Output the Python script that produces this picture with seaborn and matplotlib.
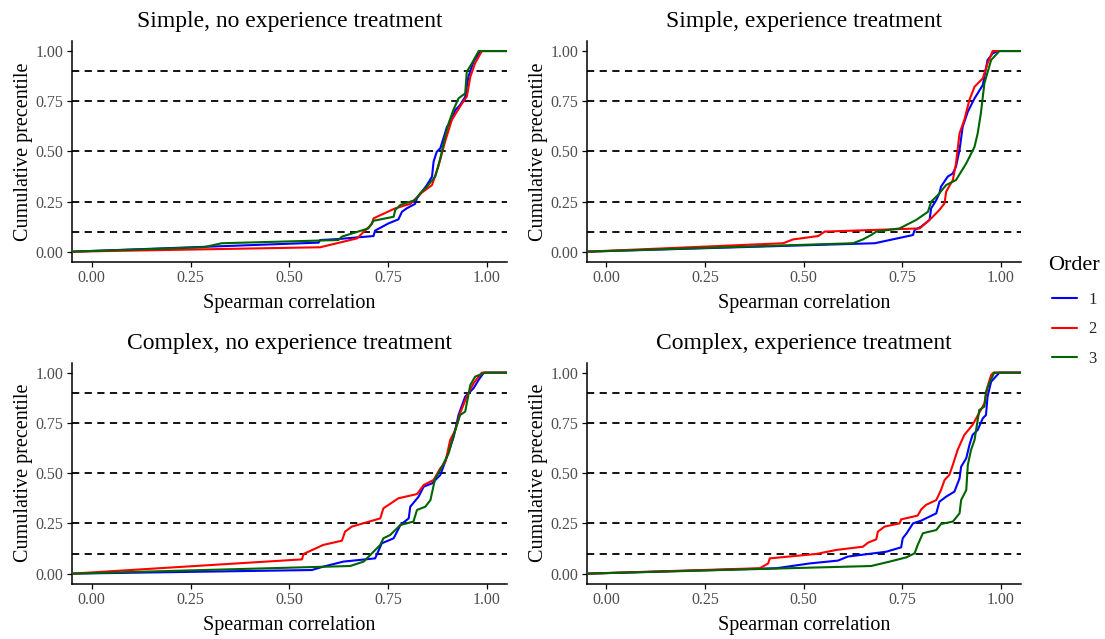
import numpy as np
import pandas as pd
import matplotlib
matplotlib.use("Agg")
import matplotlib.pyplot as plt
from matplotlib.lines import Line2D
import seaborn as sns

# ---------------- data (Spearman correlation, cumulative percentile) ----------------
panel_titles = ["Simple, no experience treatment", "Simple, experience treatment",
                "Complex, no experience treatment", "Complex, experience treatment"]
orders = ["1", "2", "3"]
ref_lines = [0.10, 0.25, 0.50, 0.75, 0.90]
x_ticks = [0.00, 0.25, 0.50, 0.75, 1.00]
y_ticks = [0.00, 0.25, 0.50, 0.75, 1.00]

# Simple, no experience
sn_x1 = [0.574, 0.578, 0.624, 0.713, 0.717, 0.751, 0.776, 0.785, 0.797, 0.818, 0.823, 0.848, 0.861, 0.865, 0.873, 0.882, 0.899, 0.907, 0.920, 0.932, 0.945, 0.953, 0.966, 0.983]
sn_y1 = [0.045, 0.058, 0.063, 0.078, 0.105, 0.141, 0.161, 0.199, 0.216, 0.238, 0.266, 0.332, 0.374, 0.449, 0.498, 0.515, 0.623, 0.640, 0.706, 0.731, 0.772, 0.872, 0.947, 1.000]
sn_x2 = [0.578, 0.671, 0.709, 0.713, 0.768, 0.806, 0.835, 0.861, 0.877, 0.886, 0.894, 0.911, 0.924, 0.937, 0.949, 0.958, 0.970, 0.987]
sn_y2 = [0.022, 0.066, 0.138, 0.166, 0.216, 0.238, 0.294, 0.332, 0.424, 0.490, 0.548, 0.656, 0.698, 0.739, 0.772, 0.872, 0.939, 1.000]
sn_x3 = [0.283, 0.329, 0.624, 0.633, 0.700, 0.713, 0.764, 0.768, 0.781, 0.818, 0.831, 0.848, 0.869, 0.882, 0.894, 0.903, 0.915, 0.928, 0.945, 0.949, 0.962, 0.979]
sn_y3 = [0.022, 0.042, 0.058, 0.075, 0.116, 0.154, 0.174, 0.208, 0.233, 0.257, 0.291, 0.324, 0.374, 0.465, 0.573, 0.640, 0.706, 0.764, 0.789, 0.897, 0.939, 1.000]

# Simple, experience
se_x1 = [0.680, 0.777, 0.781, 0.798, 0.819, 0.823, 0.836, 0.844, 0.848, 0.865, 0.878, 0.886, 0.895, 0.903, 0.916, 0.933, 0.954, 0.966, 0.979, 0.992]
se_y1 = [0.042, 0.083, 0.108, 0.125, 0.158, 0.216, 0.257, 0.291, 0.324, 0.374, 0.390, 0.424, 0.507, 0.623, 0.698, 0.764, 0.831, 0.955, 0.988, 1.000]
se_x2 = [0.448, 0.473, 0.537, 0.553, 0.794, 0.823, 0.844, 0.857, 0.861, 0.878, 0.886, 0.890, 0.895, 0.907, 0.920, 0.933, 0.954, 0.966, 0.979]
se_y2 = [0.042, 0.061, 0.078, 0.100, 0.116, 0.166, 0.208, 0.241, 0.299, 0.357, 0.440, 0.507, 0.590, 0.656, 0.756, 0.822, 0.864, 0.939, 1.000]
se_x3 = [0.625, 0.650, 0.671, 0.684, 0.743, 0.785, 0.815, 0.823, 0.840, 0.861, 0.886, 0.912, 0.933, 0.941, 0.949, 0.958, 0.975, 0.996]
se_y3 = [0.042, 0.061, 0.083, 0.100, 0.116, 0.158, 0.199, 0.249, 0.282, 0.332, 0.357, 0.440, 0.523, 0.590, 0.689, 0.839, 0.955, 1.000]

# Complex, no experience
cn_x1 = [0.557, 0.586, 0.637, 0.717, 0.734, 0.764, 0.781, 0.802, 0.806, 0.827, 0.840, 0.861, 0.882, 0.899, 0.916, 0.928, 0.945, 0.966, 0.979, 0.992]
cn_y1 = [0.018, 0.035, 0.060, 0.076, 0.151, 0.176, 0.242, 0.275, 0.333, 0.383, 0.433, 0.449, 0.491, 0.582, 0.682, 0.789, 0.881, 0.922, 0.964, 1.000]
cn_x2 = [0.532, 0.536, 0.586, 0.633, 0.641, 0.658, 0.730, 0.738, 0.776, 0.823, 0.840, 0.865, 0.882, 0.895, 0.907, 0.920, 0.932, 0.949, 0.966, 0.987]
cn_y2 = [0.071, 0.098, 0.143, 0.164, 0.209, 0.234, 0.275, 0.325, 0.375, 0.396, 0.441, 0.466, 0.524, 0.557, 0.665, 0.715, 0.798, 0.881, 0.947, 1.000]
cn_x3 = [0.654, 0.688, 0.713, 0.730, 0.738, 0.755, 0.781, 0.814, 0.823, 0.844, 0.857, 0.869, 0.882, 0.903, 0.916, 0.932, 0.945, 0.958, 0.970, 0.996]
cn_y3 = [0.038, 0.060, 0.109, 0.143, 0.176, 0.192, 0.242, 0.259, 0.317, 0.333, 0.366, 0.474, 0.516, 0.599, 0.690, 0.789, 0.806, 0.939, 0.980, 1.000]

# Complex, experience
ce_x1 = [0.431, 0.516, 0.587, 0.612, 0.709, 0.747, 0.751, 0.761, 0.777, 0.798, 0.836, 0.844, 0.861, 0.882, 0.895, 0.899, 0.912, 0.920, 0.928, 0.941, 0.954, 0.962, 0.966, 0.975, 0.996]
ce_y1 = [0.027, 0.051, 0.065, 0.085, 0.109, 0.131, 0.176, 0.201, 0.250, 0.264, 0.300, 0.358, 0.383, 0.408, 0.474, 0.532, 0.574, 0.640, 0.690, 0.715, 0.773, 0.789, 0.881, 0.955, 1.000]
ce_x2 = [0.389, 0.410, 0.414, 0.532, 0.583, 0.650, 0.663, 0.684, 0.688, 0.705, 0.743, 0.747, 0.789, 0.798, 0.810, 0.836, 0.848, 0.857, 0.869, 0.878, 0.890, 0.907, 0.928, 0.958, 0.966, 0.975, 0.981]
ce_y2 = [0.027, 0.051, 0.076, 0.098, 0.118, 0.134, 0.154, 0.171, 0.209, 0.234, 0.250, 0.270, 0.289, 0.320, 0.342, 0.366, 0.416, 0.466, 0.491, 0.541, 0.615, 0.690, 0.740, 0.847, 0.930, 0.988, 1.000]
ce_x3 = [0.671, 0.718, 0.760, 0.781, 0.789, 0.802, 0.836, 0.848, 0.878, 0.895, 0.899, 0.912, 0.916, 0.924, 0.933, 0.945, 0.958, 0.962, 0.970, 0.983]
ce_y3 = [0.038, 0.060, 0.081, 0.101, 0.143, 0.201, 0.217, 0.247, 0.259, 0.300, 0.366, 0.416, 0.541, 0.615, 0.665, 0.814, 0.831, 0.905, 0.947, 1.000]

series = {
    panel_titles[0]: [(sn_x1, sn_y1), (sn_x2, sn_y2), (sn_x3, sn_y3)],
    panel_titles[1]: [(se_x1, se_y1), (se_x2, se_y2), (se_x3, se_y3)],
    panel_titles[2]: [(cn_x1, cn_y1), (cn_x2, cn_y2), (cn_x3, cn_y3)],
    panel_titles[3]: [(ce_x1, ce_y1), (ce_x2, ce_y2), (ce_x3, ce_y3)],
}

XMIN, XMAX = -0.05, 1.05
rows = []
for title, lst in series.items():
    for o, (xs, ys) in zip(orders, lst):
        # ecdf padding to the panel edges (-Inf / +Inf)
        xx = [XMIN] + list(xs) + [XMAX]
        yy = [0.0] + list(ys) + [1.0]
        for a, b in zip(xx, yy):
            rows.append({"panel": title, "Order": o, "x": a, "y": b})
df = pd.DataFrame(rows)

# ---------------- style ----------------
sns.set_theme(style="white")
plt.rcParams["font.family"] = ["Liberation Serif", "DejaVu Serif"]
palette = {"1": "#0000FF", "2": "#FF0000", "3": "#006400"}

fig = plt.figure(figsize=(11.05, 6.39), dpi=100)
W, H = 1105, 639
boxes = [(72, 41, 506.7, 261.7), (586.7, 41, 1020.7, 261.7),
         (72, 362.6, 506.7, 583.7), (586.7, 362.6, 1020.7, 583.7)]

for title, (l, t, r, b) in zip(panel_titles, boxes):
    ax = fig.add_axes([l / W, 1 - b / H, (r - l) / W, (b - t) / H])
    sub = df[df["panel"] == title]
    for yv in ref_lines:
        ax.axhline(yv, color="black", lw=1.3, ls=(0, (4, 3)), zorder=1)
    sns.lineplot(data=sub, x="x", y="y", hue="Order", palette=palette,
                 estimator=None, sort=False, legend=False, lw=1.5, ax=ax, zorder=3)
    ax.set_xlim(XMIN, XMAX)
    ax.set_ylim(-0.05, 1.05)
    ax.set_xticks(x_ticks)
    ax.set_yticks(y_ticks)
    ax.set_xticklabels([f"{v:.2f}" for v in x_ticks])
    ax.set_yticklabels([f"{v:.2f}" for v in y_ticks])
    ax.tick_params(axis="both", which="both", length=3.5, width=0.9, color="black",
                   labelsize=11.5, labelcolor="#4D4D4D", pad=2.5, bottom=True, left=True)
    for s in ["top", "right"]:
        ax.spines[s].set_visible(False)
    for s in ["left", "bottom"]:
        ax.spines[s].set_color("black")
        ax.spines[s].set_linewidth(1.1)
    ax.set_xlabel("Spearman correlation", fontsize=14.5, color="black", labelpad=6)
    ax.set_ylabel("Cumulative precentile", fontsize=14.5, color="black", labelpad=2)
    ax.set_title(title, fontsize=17, color="black", pad=10)
    ax.set_facecolor("white")

# legend: title as text, entries as a borderless legend
fig.text(1048.5 / W, 1 - 266 / H, "Order", fontsize=16, color="black",
         ha="left", va="center")
handles = [Line2D([0], [0], color=palette[o], lw=1.5) for o in orders]
leg = fig.legend(handles, orders, loc="upper left",
                 bbox_to_anchor=(1052 / W, 1 - 292 / H), frameon=False,
                 fontsize=12, handlelength=1.5, borderpad=0, borderaxespad=0,
                 labelspacing=0.8, handletextpad=0.7)

fig.savefig("out.png", dpi=100, facecolor="white")
